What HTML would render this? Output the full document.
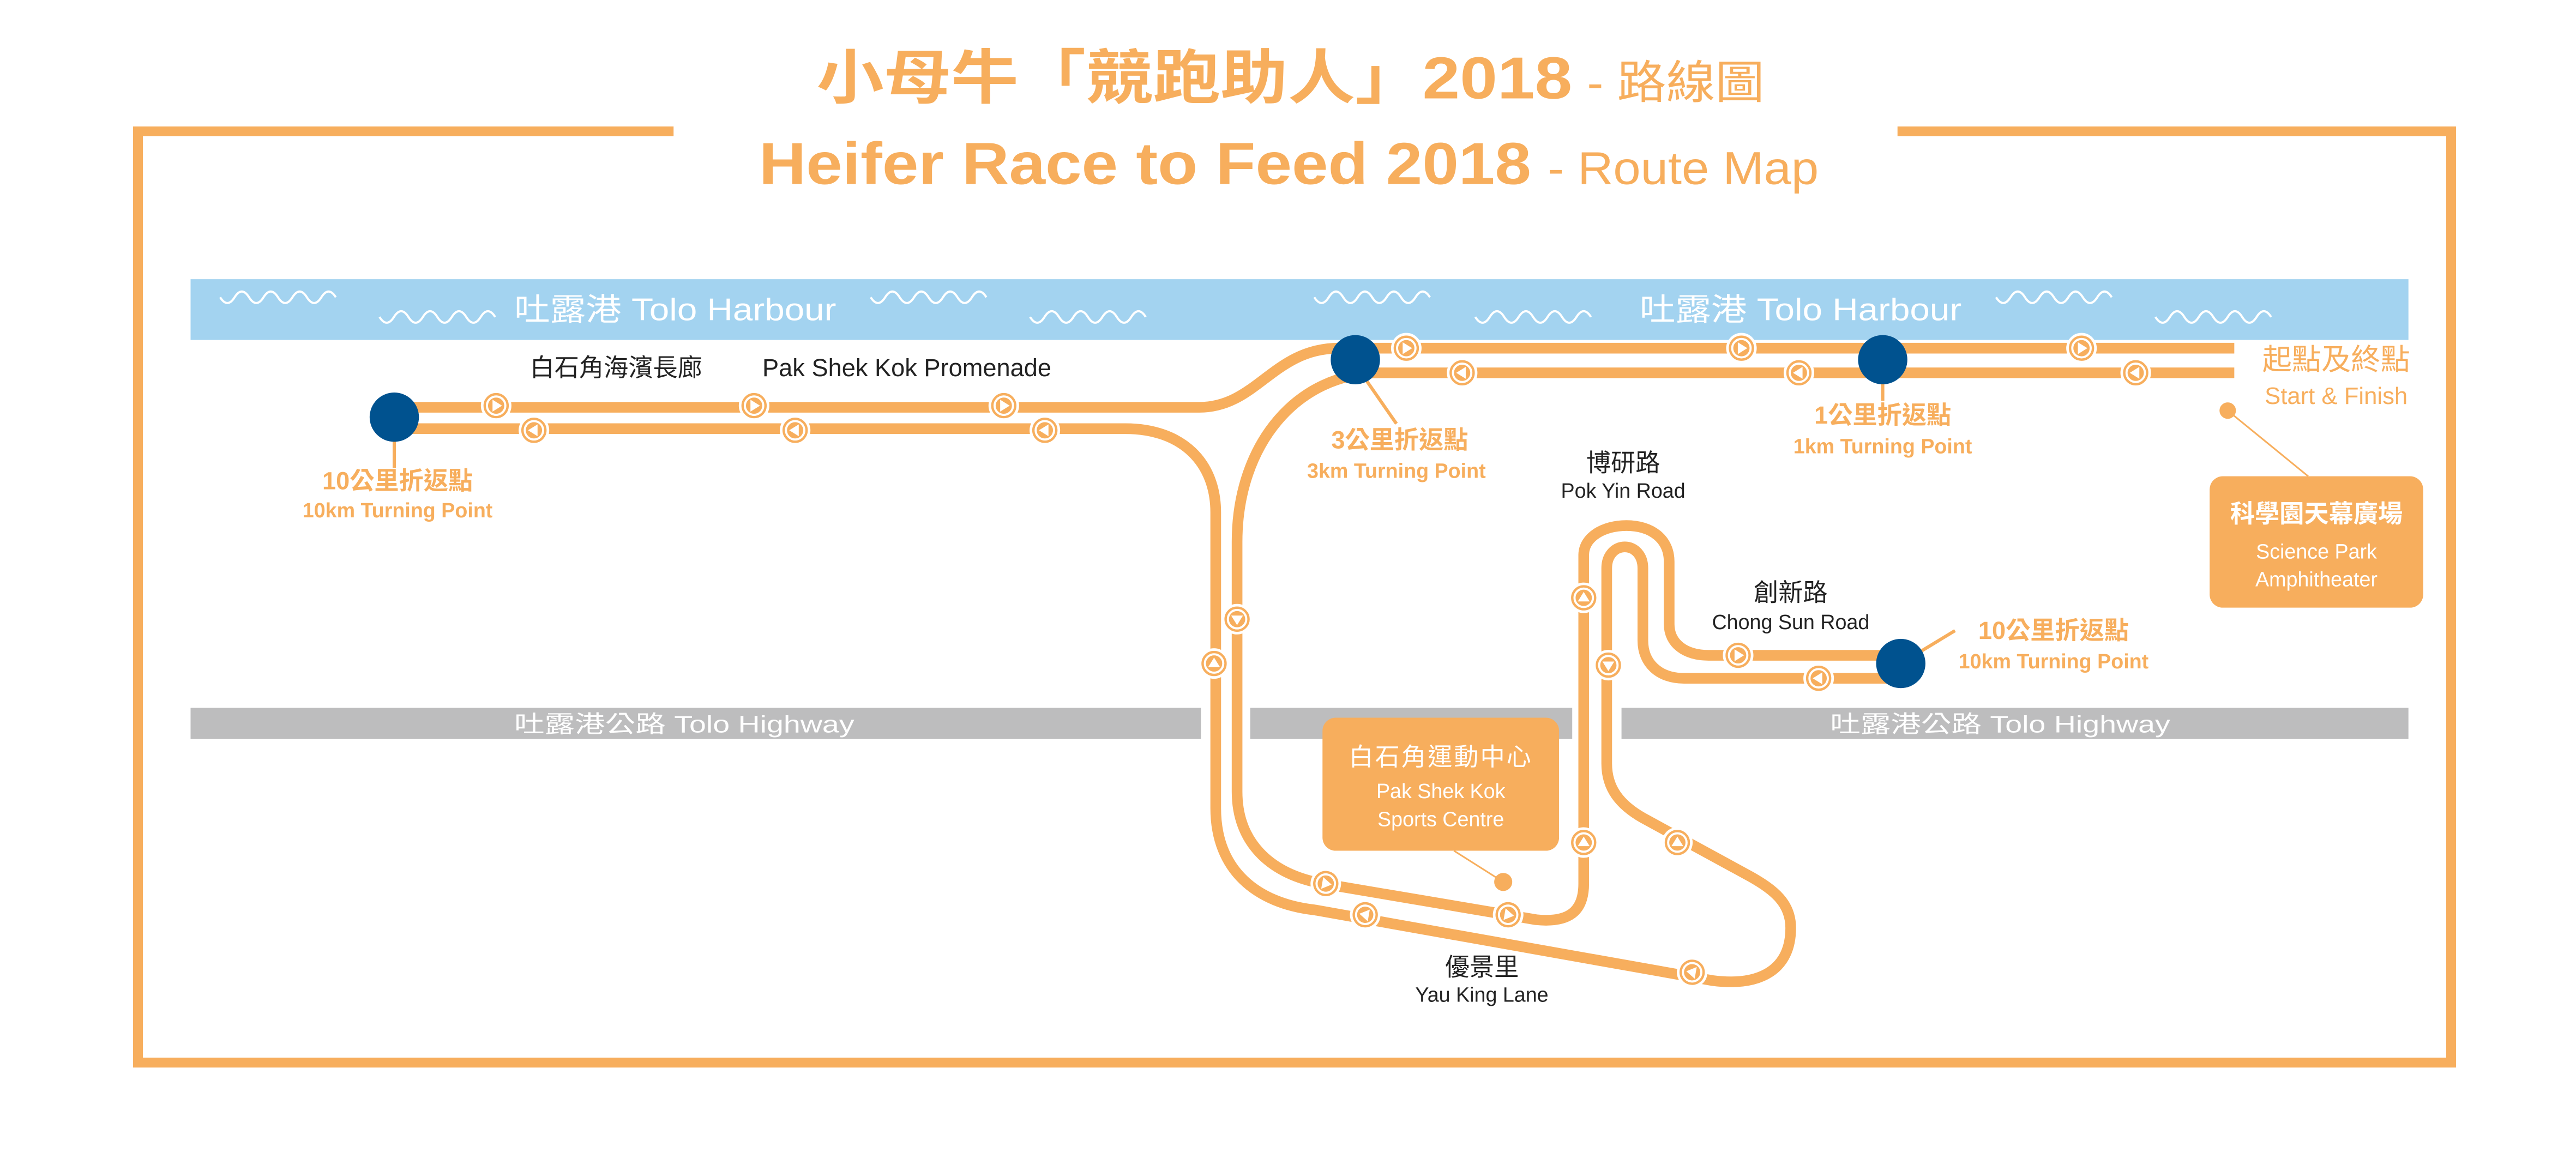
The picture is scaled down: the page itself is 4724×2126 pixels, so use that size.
<!DOCTYPE html>
<html><head><meta charset="utf-8"><style>
html,body{margin:0;padding:0;background:#fff;}
svg{display:block;}
text{font-family:"Liberation Sans","Noto Sans CJK TC",sans-serif;}
</style></head><body>
<svg width="4724" height="2126" viewBox="0 0 1568 705.7" preserveAspectRatio="none" xmlns="http://www.w3.org/2000/svg">
<defs>
<g id="ar"><circle r="8.5" fill="#F7AE5D" stroke="#fff" stroke-width="1.6"/><circle r="5.6" fill="none" stroke="#fff" stroke-width="1.3"/><path d="M-2.2,-3.6 L3.6,0 L-2.2,3.6 Z" fill="#fff"/></g>
<path id="wv" d="M0,0 q4.4,7 8.8,0 t8.8,0 t8.8,0 t8.8,0 t8.8,0 t8.8,0 t8.8,0 t8.8,0" fill="none" stroke="#fff" stroke-width="1.3"/>
</defs>
<!-- Title -->
<text x="497" y="60" font-size="36" font-weight="bold" fill="#F7AE5D" textLength="460" lengthAdjust="spacingAndGlyphs">小母牛「競跑助人」2018</text>
<text x="966" y="60" font-size="28" fill="#F7AE5D" textLength="108" lengthAdjust="spacingAndGlyphs">- 路線圖</text>
<text x="462" y="112" font-size="36" font-weight="bold" fill="#F7AE5D" textLength="470" lengthAdjust="spacingAndGlyphs">Heifer Race to Feed 2018</text>
<text x="942" y="112" font-size="28" fill="#F7AE5D" textLength="165" lengthAdjust="spacingAndGlyphs">- Route Map</text>
<!-- Frame -->
<path d="M410,80 H84 V647 H1492 V80 H1155" fill="none" stroke="#F7AE5D" stroke-width="6"/>
<!-- Harbour -->
<rect x="116" y="170" width="1350" height="37" fill="#A3D3F0"/>
<use href="#wv" x="134" y="181"/><use href="#wv" x="231" y="193"/><use href="#wv" x="530" y="181"/><use href="#wv" x="627" y="193"/>
<use href="#wv" x="800" y="181"/><use href="#wv" x="898" y="193"/><use href="#wv" x="1215" y="181"/><use href="#wv" x="1312" y="193"/>
<text x="313" y="195" font-size="19" fill="#fff" textLength="196" lengthAdjust="spacingAndGlyphs">吐露港  Tolo Harbour</text>
<text x="998" y="195" font-size="19" fill="#fff" textLength="196" lengthAdjust="spacingAndGlyphs">吐露港  Tolo Harbour</text>
<!-- Highway -->
<rect x="116" y="431" width="615" height="19" fill="#BDBDBE"/>
<rect x="761" y="431" width="196" height="19" fill="#BDBDBE"/>
<rect x="987" y="431" width="479" height="19" fill="#BDBDBE"/>
<text x="313" y="446" font-size="14.5" fill="#fff" textLength="207" lengthAdjust="spacingAndGlyphs">吐露港公路     Tolo Highway</text>
<text x="1114" y="446" font-size="14.5" fill="#fff" textLength="207" lengthAdjust="spacingAndGlyphs">吐露港公路     Tolo Highway</text>
<!-- Tracks -->
<g fill="none" stroke="#F7AE5D" stroke-width="6.5" stroke-linejoin="round">
<path d="M240,248 H730 C765,248 775,212 815,212 H1360"/>
<path d="M1360,227 H840 C790,227 753,270 753,330 V482 C753,512 772,532 805,538 L935,560 C955,562 964,555 964,538 V338 C964,327 976,320 990,320 C1005,320 1016,328 1016,342 V380 C1016,392 1026,399 1040,399 H1155"/>
<path d="M240,261 H685 C720,261 740,282 740,312 V492 C740,530 765,550 800,554 L1042,597 C1072,601 1090,590 1090,565 C1090,550 1080,542 1066,534 L1000,498 C986,490 978,480 978,465 V346 C978,338 983,333 989,333 C995,333 1000,338 1000,346 V390 C1000,404 1010,413 1025,413 H1155"/>
</g>
<!-- Arrows -->
<g>
<use href="#ar" x="302" y="247"/><use href="#ar" x="459" y="247"/><use href="#ar" x="611" y="247"/>
<use href="#ar" x="856" y="212"/><use href="#ar" x="1060" y="212"/><use href="#ar" x="1267" y="212"/>
<use href="#ar" transform="translate(325,262) rotate(180)"/><use href="#ar" transform="translate(484,262) rotate(180)"/><use href="#ar" transform="translate(636,262) rotate(180)"/>
<use href="#ar" transform="translate(890,227) rotate(180)"/><use href="#ar" transform="translate(1095,227) rotate(180)"/><use href="#ar" transform="translate(1300,227) rotate(180)"/>
<use href="#ar" transform="translate(753,377) rotate(90)"/>
<use href="#ar" transform="translate(739,404) rotate(-90)"/>
<use href="#ar" transform="translate(807,538) rotate(10)"/><use href="#ar" transform="translate(918,557) rotate(10)"/>
<use href="#ar" transform="translate(831,557) rotate(190)"/><use href="#ar" transform="translate(1030,592) rotate(190)"/>
<use href="#ar" transform="translate(964,513) rotate(-90)"/><use href="#ar" transform="translate(964,364) rotate(-90)"/>
<use href="#ar" transform="translate(979,405) rotate(90)"/>
<use href="#ar" transform="translate(1021,513) rotate(-90)"/>
<use href="#ar" x="1058" y="399"/>
<use href="#ar" transform="translate(1107,413) rotate(180)"/>
</g>
<!-- connectors -->
<g stroke="#F7AE5D" stroke-width="2">
<line x1="240" y1="254" x2="240" y2="285"/>
<line x1="825" y1="222" x2="850" y2="258"/>
<line x1="1146" y1="219" x2="1146" y2="244"/>
<line x1="1157" y1="404" x2="1190" y2="384"/>
<line x1="1356" y1="250" x2="1405" y2="290" stroke-width="1"/>
<line x1="885" y1="518" x2="915" y2="537" stroke-width="1"/>
</g>
<circle cx="1356" cy="250" r="5" fill="#F7AE5D"/>
<circle cx="915" cy="537" r="5.5" fill="#F7AE5D"/>
<!-- turning points -->
<g fill="#00528F">
<circle cx="240" cy="254" r="15"/><circle cx="825" cy="219" r="15"/><circle cx="1146" cy="219" r="15"/><circle cx="1157" cy="404" r="15"/>
</g>
<g fill="#F7AE5D" font-weight="bold" text-anchor="middle">
<text x="242" y="298" font-size="15">10公里折返點</text>
<text x="242" y="315" font-size="12.5">10km Turning Point</text>
<text x="852" y="273" font-size="15">3公里折返點</text>
<text x="850" y="291" font-size="12.5">3km Turning Point</text>
<text x="1146" y="258" font-size="15">1公里折返點</text>
<text x="1146" y="276" font-size="12.5">1km Turning Point</text>
<text x="1250" y="389" font-size="15">10公里折返點</text>
<text x="1250" y="407" font-size="12.5">10km Turning Point</text>
</g>
<text x="1422" y="225" font-size="18" fill="#F7AE5D" text-anchor="middle">起點及終點</text>
<text x="1422" y="246" font-size="14.5" fill="#F7AE5D" text-anchor="middle">Start &amp; Finish</text>
<!-- boxes -->
<rect x="1345" y="290" width="130" height="80" rx="8" fill="#F7AE5D"/>
<text x="1410" y="318" font-size="15" font-weight="bold" fill="#fff" text-anchor="middle">科學園天幕廣場</text>
<text x="1410" y="340" font-size="12.5" fill="#fff" text-anchor="middle">Science Park</text>
<text x="1410" y="357" font-size="12.5" fill="#fff" text-anchor="middle">Amphitheater</text>
<rect x="805" y="437" width="144" height="81" rx="8" fill="#F7AE5D"/>
<text x="877" y="466" font-size="15" fill="#fff" text-anchor="middle" letter-spacing="1">白石角運動中心</text>
<text x="877" y="486" font-size="12.5" fill="#fff" text-anchor="middle">Pak Shek Kok</text>
<text x="877" y="503" font-size="12.5" fill="#fff" text-anchor="middle">Sports Centre</text>
<!-- black labels -->
<g fill="#222" text-anchor="middle">
<text x="375" y="229" font-size="15">白石角海濱長廊</text>
<text x="552" y="229" font-size="15">Pak Shek Kok Promenade</text>
<text x="988" y="287" font-size="15">博研路</text>
<text x="988" y="303" font-size="12.5">Pok Yin Road</text>
<text x="1090" y="366" font-size="15">創新路</text>
<text x="1090" y="383" font-size="12.5">Chong Sun Road</text>
<text x="902" y="594" font-size="15">優景里</text>
<text x="902" y="610" font-size="12.5">Yau King Lane</text>
</g>
</svg>
</body></html>
